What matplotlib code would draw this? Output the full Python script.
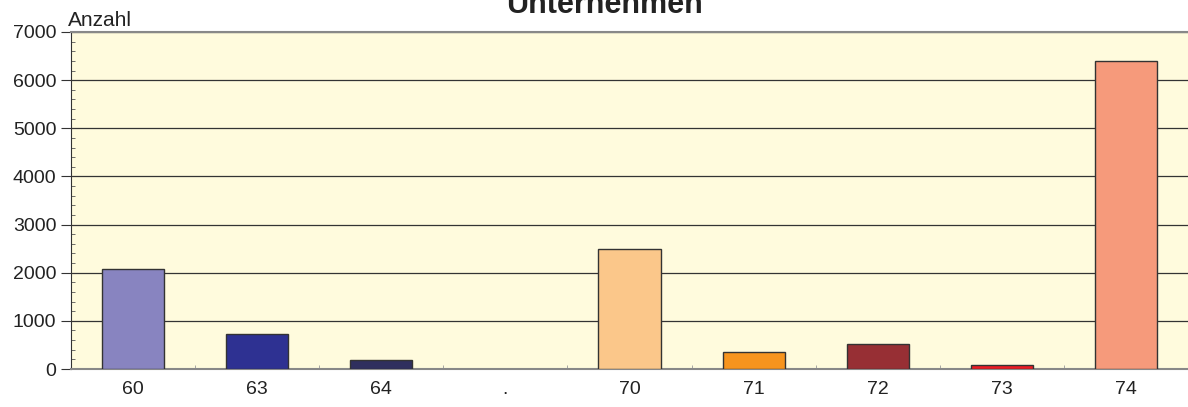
import matplotlib.pyplot as plt
from matplotlib.ticker import MultipleLocator, FixedLocator
import numpy as np

plt.rcParams['font.family'] = ['Liberation Sans', 'DejaVu Sans']

categories = ['60', '63', '64', '.', '70', '71', '72', '73', '74']
values = [2075, 733, 187, 0, 2493, 347, 519, 83, 6404]
colors = ['#8884c0', '#2e3192', '#2f2f5e', '#2f2f5e', '#fbc78a',
          '#f7941d', '#972f34', '#ed1c24', '#f69a7b']


def main():
    fig = plt.figure(figsize=(11.88, 4.07), dpi=100)
    ax = fig.add_axes([71 / 1188, 1 - 369 / 407, 1 - 71 / 1188, (369 - 32) / 407])
    ax.set_facecolor('#fffbdd')

    x = np.arange(len(categories))
    # empty categories get no outline
    edges = ['#333333' if v > 0 else 'none' for v in values]
    ax.bar(x, values, width=0.5, color=colors, edgecolor=edges,
           linewidth=1.0, zorder=3)

    ax.set_xlim(-0.5, len(categories) - 0.5)
    ax.set_ylim(0, 7000)
    ax.yaxis.set_major_locator(MultipleLocator(1000))
    ax.yaxis.set_minor_locator(MultipleLocator(200))
    ax.grid(axis='y', which='major', color='#333333', linewidth=0.9, zorder=1)

    ax.set_xticks(x)
    ax.set_xticklabels(categories)
    ax.xaxis.set_minor_locator(FixedLocator(np.arange(-0.5, len(categories), 1.0)))
    ax.tick_params(axis='x', which='major', length=0, pad=9, labelsize=14,
                   labelcolor='#222222')
    ax.tick_params(axis='x', which='minor', direction='in', length=3,
                   color='#999999')
    ax.tick_params(axis='y', which='major', direction='out', length=7,
                   labelsize=14, labelcolor='#222222', color='#333333')
    ax.tick_params(axis='y', which='minor', direction='in', length=3,
                   color='#555555')

    ax.spines['right'].set_visible(False)
    ax.spines['top'].set_color('#888888')
    ax.spines['top'].set_linewidth(1.5)
    ax.spines['bottom'].set_color('#888888')
    ax.spines['bottom'].set_linewidth(1.5)
    ax.spines['left'].set_color('#333333')

    ax.text(-0.003, 1.005, 'Anzahl', transform=ax.transAxes, ha='left',
            va='bottom', fontsize=15, color='#222222')
    fig.text(604 / 1188, 1 - 13 / 407, 'Unternehmen', ha='center', va='baseline',
             fontsize=22, fontweight='bold', color='#222222')

    fig.savefig('out.png', dpi=100)


if __name__ == '__main__':
    main()
